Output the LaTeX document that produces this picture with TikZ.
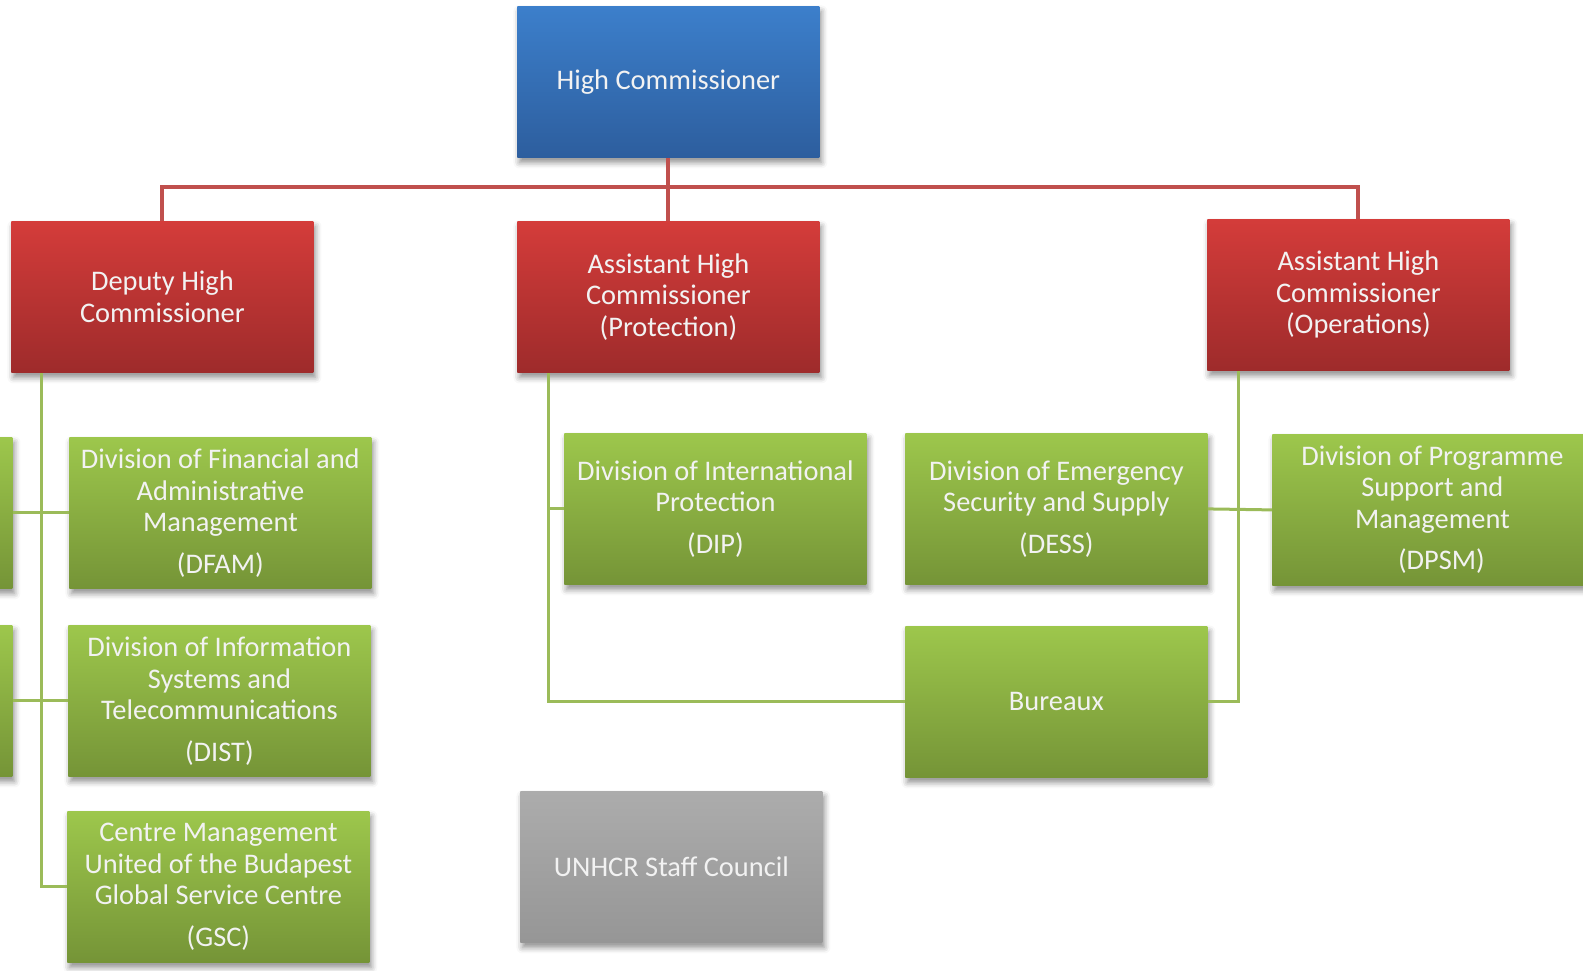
\documentclass[tikz,border=0pt]{standalone}
\usepackage{fontspec}
\setmainfont{Carlito}
\usetikzlibrary{shadows.blur}
\definecolor{hctop}{RGB}{60,127,203}
\definecolor{hcbot}{RGB}{45,94,158}
\definecolor{redtop}{RGB}{212,60,58}
\definecolor{redbot}{RGB}{158,43,43}
\definecolor{greentop}{RGB}{157,199,76}
\definecolor{greenbot}{RGB}{117,148,55}
\definecolor{greytop}{RGB}{172,172,172}
\definecolor{greybot}{RGB}{150,150,150}
\definecolor{redwire}{RGB}{192,80,77}
\definecolor{greenwire}{RGB}{155,187,89}
\begin{document}
\begin{tikzpicture}[x=0.5pt, y=-0.5pt]
      \tikzstyle{unit}=[anchor=north west, minimum width=151pt, minimum height=75.5pt, inner sep=0pt,
        align=center, text=white!95!black, font=\fontsize{14.2}{15.75}\selectfont,
        blur shadow={shadow xshift=1pt, shadow yshift=-2.5pt, shadow blur radius=3pt, shadow opacity=45}]
      \tikzstyle{head}=[unit, top color=hctop, bottom color=hcbot]
      \tikzstyle{deputy}=[unit, top color=redtop, bottom color=redbot]
      \tikzstyle{division}=[unit, top color=greentop, bottom color=greenbot]
      \tikzstyle{council}=[unit, top color=greytop, bottom color=greybot]
      \tikzstyle{redline}=[draw=redwire, line width=2pt]
      \tikzstyle{greenline}=[draw=greenwire, line width=1.5pt]

      \node[head]     (hc)   at (517,  6) {High Commissioner};
      \node[deputy]   (dhc)  at (11, 221) {Deputy High\\Commissioner};
      \node[deputy]   (ahcp) at (517,221) {Assistant High\\Commissioner\\(Protection)};
      \node[deputy]   (ahco) at (1207,219) {Assistant High\\Commissioner\\(Operations)};

      \node[division] (lfa)  at (-290,437) {};
      \node[division] (lfb)  at (-290,625) {};
      \node[division] (dfam) at (69, 437) {Division of Financial and\\Administrative\\Management\\[5pt](DFAM)};
      \node[division] (dist) at (68, 625) {Division of Information\\Systems and\\Telecommunications\\[5pt](DIST)};
      \node[division] (gsc)  at (67, 811) {Centre Management\\United of the Budapest\\Global Service Centre\\[5pt](GSC)};
      \node[division] (dip)  at (564,433) {Division of International\\Protection\\[5pt](DIP)};
      \node[division] (dess) at (905,433) {Division of Emergency\\Security and Supply\\[5pt](DESS)};
      \node[division, minimum width=160pt] (dpsm) at (1272,434) {Division of Programme\\Support and\\Management\\[5pt](DPSM)\hspace*{-9pt}};
      \node[division] (bur)  at (905,626) {Bureaux};
      \node[council]  (usc)  at (520,791) {UNHCR Staff Council};

      % red tree below the High Commissioner
      \coordinate (rbus) at (hc.south |- 0,187);
      \draw[redline] (hc.south) -- (ahcp.north);
      \draw[redline] (dhc.north) |- (rbus) -| (ahco.north);

      % green trunks
      \coordinate (dtrunk) at ([xshift=15pt]dhc.south west);
      \coordinate (ptrunk) at ([xshift=15.5pt]ahcp.south west);
      \coordinate (otrunk) at ([xshift=15.5pt]ahco.south west);
      \draw[greenline] (dtrunk) |- (gsc.west);
      \draw[greenline] (lfa.east) -- (dfam.west);
      \draw[greenline] (lfb.east) -- (dist.west);
      \draw[greenline] (ptrunk) |- (bur.west);
      \draw[greenline] (dip.west) -- (dip.west -| ptrunk);
      \draw[greenline] (otrunk) |- (bur.east);
      \draw[greenline] (dess.east) -- (dpsm.west);

      \pgfresetboundingbox
      \useasboundingbox (0,0) rectangle (1583,970);
    \end{tikzpicture}
\end{document}
